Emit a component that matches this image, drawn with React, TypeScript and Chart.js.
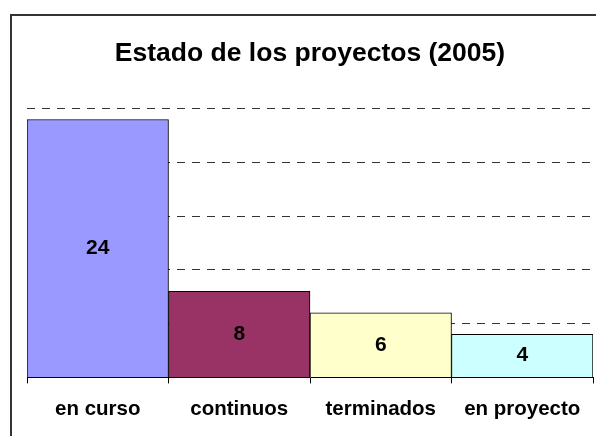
import React, { useEffect, useRef } from "react";
import { Chart, registerables } from "chart.js";

Chart.register(...registerables);

const categories = ["en curso", "continuos", "terminados", "en proyecto"];
const values = [24, 8, 6, 4];
const barColors = ["#9999FF", "#993366", "#FFFFCC", "#CCFFFF"];
const titleText = "Estado de los proyectos (2005)";
const yMax = 25;
const yStep = 5;

const FONT = "'Liberation Sans', Arial, sans-serif";

const frameAndLabels = {
  id: "frameAndLabels",
  beforeDraw(chart: any) {
    const { ctx, width, height } = chart;
    ctx.save();
    ctx.fillStyle = "#ffffff";
    ctx.fillRect(0, 0, width, height);
    ctx.strokeStyle = "#333333";
    ctx.lineWidth = 2;
    ctx.strokeRect(11, 15, width + 20, height + 20);
    ctx.restore();
  },
  afterDatasetsDraw(chart: any) {
    const { ctx } = chart;
    const meta = chart.getDatasetMeta(0);
    ctx.save();
    ctx.fillStyle = "#000000";
    ctx.font = `bold 21px ${FONT}`;
    ctx.textAlign = "center";
    ctx.textBaseline = "middle";
    meta.data.forEach((bar: any, i: number) => {
      const p = bar.getProps(["x", "y", "base"], true);
      ctx.fillText(String(values[i]), p.x, (p.y + p.base) / 2);
    });
    ctx.restore();
  },
};

export default function App() {
  const ref = useRef<HTMLCanvasElement>(null);
  useEffect(() => {
    if (!ref.current) return;
    const chart = new Chart(ref.current, {
      type: "bar",
      data: {
        labels: categories,
        datasets: [
          {
            data: values,
            backgroundColor: barColors,
            borderColor: "#000000",
            borderWidth: 1,
            categoryPercentage: 1,
            barPercentage: 1,
          },
        ],
      },
      options: {
        animation: false,
        responsive: false,
        maintainAspectRatio: false,
        layout: { padding: { left: 27, right: 3, top: 0, bottom: 0 } },
        plugins: {
          legend: { display: false },
          tooltip: { enabled: false },
          title: {
            display: true,
            text: titleText,
            color: "#000000",
            font: { family: FONT, size: 26.5, weight: "bold" },
            padding: { top: 38, bottom: 39 },
          },
        },
        scales: {
          x: {
            grid: {
              display: true,
              drawOnChartArea: false,
              drawTicks: true,
              tickLength: 6,
              color: "#000000",
              offset: true,
            },
            border: { display: true, color: "#000000", width: 1 },
            ticks: {
              color: "#000000",
              padding: 14,
              font: { family: FONT, size: 20.5, weight: "bold" },
            },
          },
          y: {
            min: 0,
            max: yMax,
            ticks: { display: false, stepSize: yStep },
            grid: { drawTicks: false, color: "#333333", lineWidth: 1 },
            border: { display: false, dash: [8, 7] },
          },
        },
      },
      plugins: [frameAndLabels],
    });
    return () => chart.destroy();
  }, []);
  return (
    <div style={{ position: "fixed", left: 0, top: 0, width: 596, height: 436, overflow: "hidden" }}>
      <canvas ref={ref} width={596} height={436} style={{ display: "block" }} />
    </div>
  );
}
